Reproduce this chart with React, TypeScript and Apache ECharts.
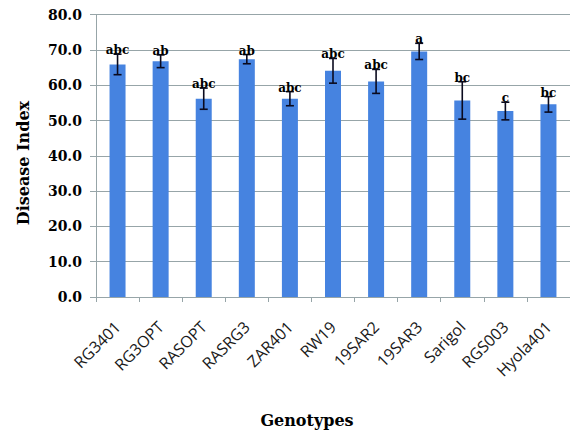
import React, { useEffect, useRef } from "react";
import * as echarts from "echarts";

// Genotypes on the x axis
const genotypes = [
  "RG3401", "RG3OPT", "RASOPT", "RASRG3", "ZAR401", "RW19",
  "19SAR2", "19SAR3", "Sarigol", "RGS003", "Hyola401",
];
// Mean disease index per genotype
const diseaseIndex = [65.9, 66.8, 56.2, 67.4, 56.2, 64.1, 61.1, 69.6, 55.7, 52.7, 54.6];
// Standard error of each mean
const stdError = [2.9, 1.8, 3.0, 1.3, 2.0, 3.5, 3.4, 2.3, 5.3, 2.5, 2.2];
// Significance groups (Duncan letters)
const groupLetters = ["abc", "ab", "abc", "ab", "abc", "abc", "abc", "a", "bc", "c", "bc"];

const gridColor = "#97a5a8";
const barColor = "#4683e0";
const serif = "'DejaVu Serif', 'Liberation Serif', serif";

export default function App() {
  const ref = useRef<HTMLDivElement>(null);

  useEffect(() => {
    if (!ref.current) return;
    const chart = echarts.init(ref.current, undefined, { renderer: "svg" });

    const errorData = genotypes.map((_, i) => [
      i,
      diseaseIndex[i] + stdError[i],
      diseaseIndex[i] - stdError[i],
    ]);

    chart.setOption({
      animation: false,
      backgroundColor: "#ffffff",
      grid: { left: 96, top: 14.7, width: 476, height: 282.3, containLabel: false },
      xAxis: {
        type: "category",
        data: genotypes,
        axisLine: { show: true, lineStyle: { color: gridColor, width: 1 } },
        axisTick: { show: true, length: 5, lineStyle: { color: gridColor } },
        axisLabel: {
          rotate: 45,
          margin: 27,
          interval: 0,
          color: "#1a1a1a",
          fontFamily: "'Open Sans', sans-serif",
          fontSize: 16,
        },
      },
      yAxis: {
        type: "value",
        min: 0,
        max: 80,
        interval: 10,
        axisLine: { show: true, lineStyle: { color: gridColor, width: 1 } },
        axisTick: { show: true, length: 6, lineStyle: { color: gridColor } },
        splitLine: { show: true, lineStyle: { color: gridColor, width: 1 } },
        axisLabel: {
          margin: 14,
          color: "#000",
          fontFamily: serif,
          fontWeight: "bold",
          fontSize: 14,
          formatter: (v: number) => v.toFixed(1),
        },
      },
      series: [
        {
          type: "bar",
          data: diseaseIndex,
          barWidth: 16,
          itemStyle: { color: barColor },
          z: 2,
        },
        {
          type: "custom",
          data: errorData,
          z: 3,
          renderItem: (params: any, api: any) => {
            const x = api.value(0);
            const hi = api.coord([x, api.value(1)]);
            const lo = api.coord([x, api.value(2)]);
            const half = 4;
            const stroke = { stroke: "#0a0a1e", lineWidth: 1.6 };
            return {
              type: "group",
              children: [
                { type: "line", shape: { x1: hi[0], y1: hi[1], x2: lo[0], y2: lo[1] }, style: stroke },
                { type: "line", shape: { x1: hi[0] - half, y1: hi[1], x2: hi[0] + half, y2: hi[1] }, style: stroke },
                { type: "line", shape: { x1: lo[0] - half, y1: lo[1], x2: lo[0] + half, y2: lo[1] }, style: stroke },
                {
                  type: "text",
                  x: hi[0],
                  y: hi[1] + 2,
                  style: {
                    text: groupLetters[params.dataIndex],
                    fill: "#000",
                    font: `bold 12px ${serif}`,
                    textAlign: "center",
                    textVerticalAlign: "bottom",
                    align: "center",
                    verticalAlign: "bottom",
                  },
                },
              ],
            };
          },
        },
      ],
      graphic: [
        {
          type: "text",
          x: 23,
          y: 163,
          rotation: Math.PI / 2,
          style: {
            text: "Disease Index",
            fill: "#000",
            font: `bold 16px ${serif}`,
            textAlign: "center",
            textVerticalAlign: "middle",
            align: "center",
            verticalAlign: "middle",
          },
        },
        {
          type: "text",
          x: 307,
          y: 420,
          style: {
            text: "Genotypes",
            fill: "#000",
            font: `bold 16px ${serif}`,
            textAlign: "center",
            textVerticalAlign: "middle",
            align: "center",
            verticalAlign: "middle",
          },
        },
      ],
    });

    return () => chart.dispose();
  }, []);

  return (
    <div
      ref={ref}
      style={{ position: "fixed", left: 0, top: 0, width: 570, height: 432, background: "#fff" }}
    />
  );
}
